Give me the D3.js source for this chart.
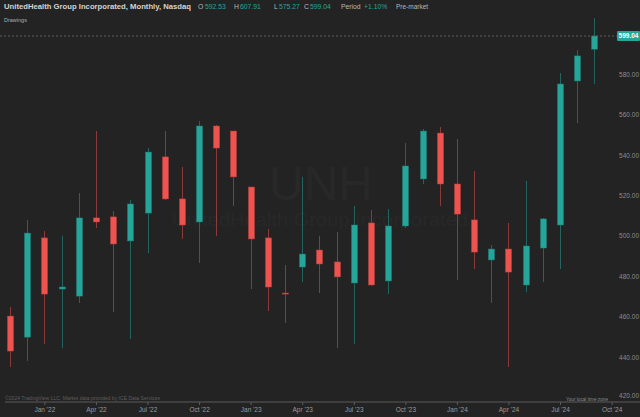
<!DOCTYPE html>
<html>
<head>
<meta charset="utf-8">
<script src="https://cdn.jsdelivr.net/npm/d3@7"></script>
<style>
  html, body { margin: 0; padding: 0; background: #232323; }
  svg { display: block; font-family: "Liberation Sans", Arial, sans-serif; }
</style>
</head>
<body>
<svg id="chart" width="640" height="417"></svg>
<script>
// monthly UNH candles, Nov '21 .. Sep '24
var open  = [460.4, 450.0, 499.1, 473.8, 470.3, 509.0, 509.5, 497.6, 511.4, 539.2, 518.4, 507.0,
             554.5, 552.0, 524.3, 499.1, 471.8, 484.7, 493.1, 487.2, 476.8, 506.5, 477.8, 505.0,
             528.3, 551.0, 525.8, 508.0, 488.2, 493.6, 475.8, 494.1, 505.5, 576.8, 592.53];
var high  = [464.9, 508.0, 502.5, 500.1, 521.3, 552.0, 512.4, 517.9, 543.6, 552.0, 534.2, 557.0,
             555.0, 552.0, 524.3, 503.5, 485.7, 529.3, 500.0, 502.0, 514.9, 512.9, 513.4, 546.1,
             553.0, 554.0, 548.1, 532.2, 495.6, 506.5, 527.3, 508.9, 580.7, 592.1, 607.91];
var low   = [435.2, 438.2, 446.6, 444.6, 466.9, 504.0, 462.4, 449.1, 491.6, 517.9, 498.6, 486.7,
             500.0, 514.9, 473.8, 462.9, 457.0, 477.3, 471.8, 444.6, 446.6, 475.5, 471.3, 504.0,
             525.8, 514.9, 478.3, 483.7, 466.9, 435.2, 472.3, 477.3, 483.7, 556.0, 575.27];
var close = [443.1, 501.5, 471.3, 474.8, 509.0, 507.0, 496.1, 515.9, 541.6, 518.4, 505.5, 554.5,
             543.6, 529.3, 498.6, 474.8, 471.3, 491.1, 486.2, 479.8, 505.5, 475.8, 505.0, 534.7,
             552.0, 525.8, 510.9, 492.1, 493.6, 482.2, 495.1, 508.5, 575.3, 589.2, 599.04];

var priceTicks = [420, 440, 460, 480, 500, 520, 540, 560, 580, 600];
var timeTicks  = ["Jan '22", "Apr '22", "Jul '22", "Oct '22", "Jan '23", "Apr '23",
                  "Jul '23", "Oct '23", "Jan '24", "Apr '24", "Jul '24", "Oct '24"];

var up = "#26a69a", down = "#ef5350";
var svg = d3.select("#chart");

// one slot per month, Oct '24 is an empty slot for the last tick
var months = d3.timeMonth.range(new Date(2021, 10, 1), new Date(2024, 10, 2));
var fmt = d3.timeFormat("%b '%y");
var x = d3.scalePoint().domain(months.map(fmt)).range([10, 628.8]);
var y = d3.scaleLinear().domain([420, 600]).range([397.7, 34.1]);

var candles = open.map(function(o, i) {
  return {t: fmt(months[i]), o: o, h: high[i], l: low[i], c: close[i]};
});

// watermark
svg.append("text").attr("x", 321).attr("y", 200).attr("text-anchor", "middle")
  .style("font-size", "48px").style("fill", "#282828").text("UNH");
svg.append("text").attr("x", 320).attr("y", 226).attr("text-anchor", "middle")
  .attr("textLength", 296).attr("lengthAdjust", "spacingAndGlyphs")
  .style("font-size", "19px").style("fill", "#282828").text("UnitedHealth Group Incorporated");

// price axis labels (right), 600 sits under the last price tag
svg.append("g").selectAll("text").data(priceTicks).enter().append("text")
  .attr("x", 639).attr("y", function(d) { return d == 420 ? y(d) - 2 : y(d); }).attr("dy", "0.35em")
  .attr("text-anchor", "end").style("font-size", "6.5px").style("fill", "#8c8c8c")
  .text(function(d) { return d.toFixed(2); });

// time axis
var xAxis = d3.axisBottom(x).tickValues(timeTicks).tickSize(3).tickPadding(2);
var gx = svg.append("g").attr("transform", "translate(0,402)").call(xAxis);
gx.select(".domain").attr("d", "M5,0H640").attr("stroke", "#5c5c5c");
gx.selectAll(".tick line").attr("stroke", "#5c5c5c");
gx.selectAll(".tick text").style("font-size", "6.5px").style("fill", "#9a9a9a")
  .style("font-family", "Liberation Sans, Arial, sans-serif");

svg.append("text").attr("x", 5).attr("y", 400).attr("textLength", 155)
  .attr("lengthAdjust", "spacingAndGlyphs").style("font-size", "5px").style("fill", "#5e5e5e")
  .text("\u00a92024 TradingView LLC, Market data provided by ICE Data Services");
svg.append("text").attr("x", 608).attr("y", 400.5).attr("text-anchor", "end")
  .attr("textLength", 42).attr("lengthAdjust", "spacingAndGlyphs")
  .style("font-size", "5px").style("fill", "#8a8a8a").text("Your local time zone");

// candles
var g = svg.append("g");
g.selectAll("line.wick").data(candles).enter().append("line")
  .attr("class", "wick")
  .attr("x1", function(d) { return Math.round(x(d.t)) + 0.5; })
  .attr("x2", function(d) { return Math.round(x(d.t)) + 0.5; })
  .attr("y1", function(d) { return y(d.h); })
  .attr("y2", function(d) { return y(d.l); })
  .attr("stroke", function(d) { return d.c >= d.o ? up : down; })
  .attr("stroke-opacity", 0.5).attr("stroke-width", 1);

g.selectAll("rect.body").data(candles).enter().append("rect")
  .attr("class", "body")
  .attr("x", function(d) { return Math.round(x(d.t)) - 2.5; })
  .attr("width", 6)
  .attr("y", function(d) { return y(Math.max(d.o, d.c)); })
  .attr("height", function(d) { return Math.max(1, Math.abs(y(d.o) - y(d.c))); })
  .attr("fill", function(d) { return d.c >= d.o ? up : down; })
  .attr("stroke", function(d) { return d.c >= d.o ? "#1d7f76" : "#b84240"; })
  .attr("stroke-width", 0.5);

// last price line + label
var last = candles[candles.length - 1];
svg.append("line").attr("x1", 0).attr("x2", 617)
  .attr("y1", y(last.c)).attr("y2", y(last.c))
  .attr("stroke", "#6a6a6a").attr("stroke-dasharray", "2,2").attr("stroke-width", 0.8);
svg.append("rect").attr("x", 617).attr("y", y(last.c) - 5).attr("width", 23).attr("height", 10)
  .attr("rx", 1).attr("fill", up);
svg.append("text").attr("x", 628.5).attr("y", y(last.c)).attr("dy", "0.35em")
  .attr("text-anchor", "middle").style("font-size", "6.5px").style("font-weight", "bold")
  .style("fill", "#ffffff").text(last.c.toFixed(2));

// header legend
svg.append("text").attr("x", 4).attr("y", 8.5).attr("textLength", 187)
  .attr("lengthAdjust", "spacingAndGlyphs")
  .style("font-size", "7.5px").style("font-weight", "bold").style("fill", "#d4d4d4")
  .text("UnitedHealth Group Incorporated, Monthly, Nasdaq");

var legend = [
  {k: "O", v: last.o.toFixed(2), kx: 198, vx: 205},
  {k: "H", v: last.h.toFixed(2), kx: 234, vx: 240},
  {k: "L", v: last.l.toFixed(2), kx: 274, vx: 279},
  {k: "C", v: last.c.toFixed(2), kx: 304, vx: 310},
  {k: "Period", v: "+" + ((last.c / last.o - 1) * 100).toFixed(2) + "%", kx: 341, vx: 364}
];
var lg = svg.append("g").selectAll("g").data(legend).enter().append("g");
lg.append("text").attr("x", function(d) { return d.kx; }).attr("y", 8.5)
  .style("font-size", "6.8px").style("fill", "#b8b8b8").text(function(d) { return d.k; });
lg.append("text").attr("x", function(d) { return d.vx; }).attr("y", 8.5)
  .style("font-size", "6.8px").style("fill", up).text(function(d) { return d.v; });
svg.append("text").attr("x", 396).attr("y", 8.5)
  .style("font-size", "6.5px").style("fill", "#b8b8b8").text("Pre-market");

svg.append("text").attr("x", 4).attr("y", 22)
  .style("font-size", "5.5px").style("fill", "#b0b0b0").text("Drawings");
</script>
</body>
</html>
